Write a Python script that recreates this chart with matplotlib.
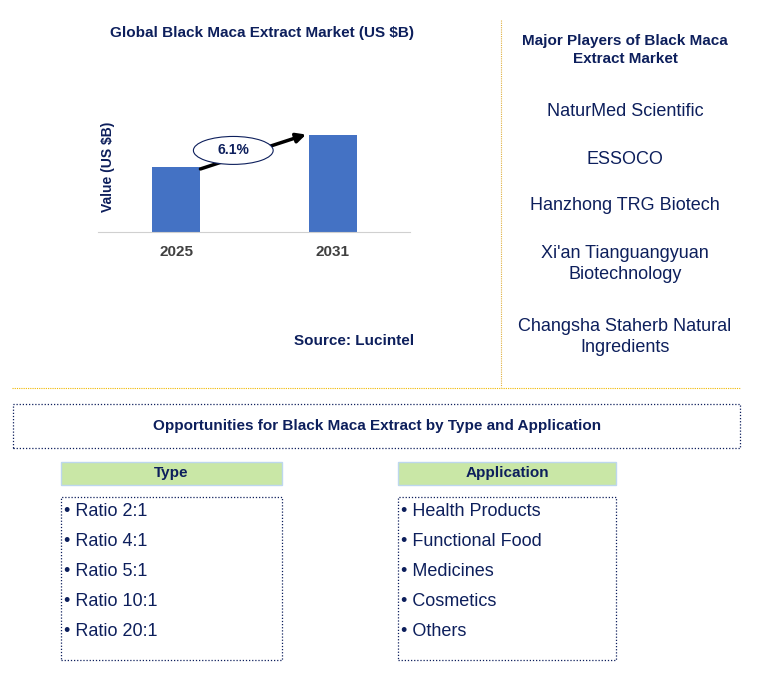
import matplotlib
matplotlib.use("Agg")
import matplotlib.pyplot as plt
from matplotlib.patches import Rectangle, Ellipse, FancyArrowPatch
from matplotlib.lines import Line2D

years = ["2025", "2031"]
values = [1.0, 1.5]
cagr = "6.1%"
players = ["NaturMed Scientific", "ESSOCO", "Hanzhong TRG Biotech",
           "Xi'an Tianguangyuan\nBiotechnology", "Changsha Staherb Natural\nIngredients"]
types = ["Ratio 2:1", "Ratio 4:1", "Ratio 5:1", "Ratio 10:1", "Ratio 20:1"]
apps = ["Health Products", "Functional Food", "Medicines", "Cosmetics", "Others"]

W, H = 763, 677
NAVY = "#0D1F5C"
fig = plt.figure(figsize=(W/100, H/100), dpi=100)
plt.rcParams["font.family"] = "Liberation Sans"

def fx(x): return x / W
def fy(y): return 1 - y / H
def txt(x, y, s, **kw):
    kw.setdefault("ha", "center"); kw.setdefault("va", "center")
    fig.text(fx(x), fy(y), s, **kw)

# bar chart
ax = fig.add_axes([fx(98), fy(232), fx(410) - fx(98), (232 - 102) / H])
ax.bar([0, 1], values, width=0.307, color="#4472C4")
ax.set_xlim(-0.5, 1.495)
ax.set_ylim(0, 2.0)
ax.set_yticks([])
ax.set_xticks([0, 1])
ax.set_xticklabels(years, fontsize=11, fontweight="bold", color="#404040")
ax.tick_params(axis="x", length=0, pad=9)
for s in ["top", "right", "left"]:
    ax.spines[s].set_visible(False)
ax.spines["bottom"].set_color("#D0D0D0")
ax.set_ylabel("Value (US $B)", fontsize=10, fontweight="bold", color=NAVY, labelpad=-12)
ax.add_patch(FancyArrowPatch((0.155, 0.97), (0.83, 1.5), arrowstyle="-|>", mutation_scale=14,
                             lw=2.5, color="black", zorder=3, shrinkA=0, shrinkB=0))
ax.add_patch(Ellipse((0.365, 1.255), 0.51, 0.43, facecolor="white", edgecolor=NAVY, lw=0.8, zorder=4))
ax.text(0.365, 1.255, cagr, ha="center", va="center", fontsize=10, fontweight="bold", color=NAVY, zorder=5)

txt(262, 33, "Global Black Maca Extract Market (US $B)", fontsize=11, fontweight="bold", color=NAVY)
txt(354, 341, "Source: Lucintel", fontsize=11, fontweight="bold", color=NAVY)

# right panel
fig.add_artist(Line2D([fx(501), fx(501)], [fy(20), fy(387)], color="#E0B040", lw=0.8, ls=(0, (1, 1))))
txt(625, 50, "Major Players of Black Maca\nExtract Market", fontsize=11, fontweight="bold", color=NAVY, linespacing=1.3)
pys = [112, 159, 205, 264, 337]
for y, p in zip(pys, players):
    txt(625, y, p, fontsize=13, color=NAVY, linespacing=1.25)

fig.add_artist(Line2D([fx(12), fx(740)], [fy(388), fy(388)], color="#F0B800", lw=0.8, ls=(0, (1, 1))))

def dbox(x0, y0, x1, y1):
    fig.add_artist(Rectangle((fx(x0), fy(y1)), fx(x1) - fx(x0), fy(y0) - fy(y1), fill=False,
                             edgecolor=NAVY, lw=0.9, ls=(0, (1, 1.5))))

dbox(13, 404, 740, 448)
txt(377, 426, "Opportunities for Black Maca Extract by Type and Application", fontsize=11, fontweight="bold", color=NAVY)

for x0, x1, title, items in [(61, 282, "Type", types), (398, 616, "Application", apps)]:
    fig.add_artist(Rectangle((fx(x0), fy(485)), fx(x1) - fx(x0), fy(462) - fy(485),
                             facecolor="#C9E7A6", edgecolor="#BDD7EE", lw=1))
    txt((x0 + x1) / 2, 473, title, fontsize=11, fontweight="bold", color=NAVY)
    dbox(x0, 497, x1, 660)
    for i, it in enumerate(items):
        txt(x0 + 3, 511 + 30 * i, "• " + it, ha="left", fontsize=13, color=NAVY)

fig.savefig("out.png", dpi=100)
